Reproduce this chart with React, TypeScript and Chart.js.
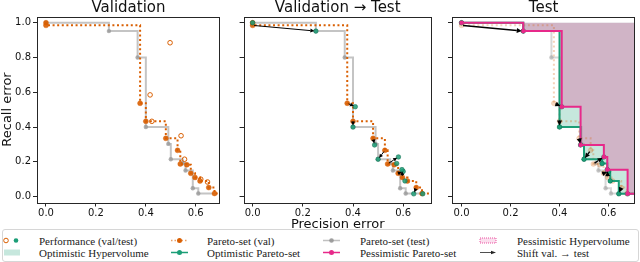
import React, { useEffect, useRef } from 'react';
import { Chart, registerables } from 'chart.js';
Chart.register(...registerables);

// ---------------- data ----------------
const panelTitles = ['Validation', 'Validation → Test', 'Test'];
const xTickValues = [0, 0.2, 0.4, 0.6];
const yTickValues = [0, 0.2, 0.4, 0.6, 0.8, 1.0];
const hvRefY = 1.0;

// Pareto-set on validation (filled orange)
const valParetoX = [0, 0, 0.377, 0.40, 0.48, 0.527, 0.538, 0.564, 0.58, 0.597, 0.617, 0.652, 0.675];
const valParetoY = [1.0, 0.985, 0.537, 0.433, 0.335, 0.266, 0.188, 0.183, 0.134, 0.11, 0.09, 0.052, 0.018];
// the same configurations evaluated on test (green)
const testOfValX = [0, 0.252, 0.409, 0.40, 0.486, 0.50, 0.581, 0.574, 0.60, 0.595, 0.607, 0.642, 0.678];
const testOfValY = [1.0, 0.952, 0.517, 0.40, 0.297, 0.215, 0.228, 0.19, 0.145, 0.155, 0.09, 0.016, 0.016];
// other validation performances (open orange)
const valOtherX = [0.497, 0.417, 0.424, 0.541, 0.555, 0.62, 0.647];
const valOtherY = [0.885, 0.585, 0.433, 0.35, 0.215, 0.10, 0.084];
// Pareto-set on test (gray)
const testParetoX = [0, 0.252, 0.367, 0.40, 0.49, 0.50, 0.548, 0.559, 0.588, 0.61];
const testParetoY = [1.0, 0.952, 0.80, 0.40, 0.303, 0.215, 0.192, 0.15, 0.048, 0.018];
// Optimistic Pareto-set (green line)
const optX = [0, 0.252, 0.40, 0.486, 0.50, 0.574, 0.595, 0.60, 0.607, 0.642];
const optY = [1.0, 0.952, 0.40, 0.297, 0.215, 0.19, 0.155, 0.145, 0.09, 0.016];
// Pessimistic Pareto-set (pink line)
const pessX = [0, 0.252, 0.409, 0.486, 0.581, 0.595, 0.678];
const pessY = [1.0, 0.952, 0.517, 0.297, 0.228, 0.155, 0.016];

// ---------------- styling ----------------
const ORANGE = '217,95,2';
const GREEN = '27,158,119';
const PINK = '231,41,138';
const GRAY = '150,150,150';
const TXT = '#111';
const FRAME = '#262626';

const Y_MIN = -0.034, Y_MAX = 1.036;
const panels = [
  { left: 37, right: 220, xMin: -0.036, xMax: 0.697 },
  { left: 243.6, right: 431.8, xMin: -0.036, xMax: 0.714 },
  { left: 452, right: 639, xMin: -0.039, xMax: 0.709 },
];

const P = (xs: number[], ys: number[]) => xs.map((x, i) => ({ x, y: ys[i] }));
const ext = (xs: number[], ys: number[], xEnd: number) => [...P(xs, ys), { x: xEnd, y: ys[ys.length - 1] }];
const firstN = (n: number, r: number) => (c: any) => (c.dataIndex < n ? r : 0);

const framePlugin = {
  id: 'frame',
  afterDraw(chart: any) {
    const { ctx, chartArea: a } = chart;
    ctx.save();
    ctx.strokeStyle = FRAME;
    ctx.lineWidth = 1;
    ctx.strokeRect(Math.round(a.left) + 0.5, Math.round(a.top) + 0.5, Math.round(a.right - a.left) - 1, Math.round(a.bottom - a.top));
    ctx.restore();
  },
};

const arrowPlugin = {
  id: 'arrows',
  afterDatasetsDraw(chart: any, _args: any, opts: any) {
    if (!opts || !opts.show) return;
    const { ctx } = chart;
    const xs = chart.scales.x, ys = chart.scales.y;
    ctx.save();
    ctx.strokeStyle = '#000';
    ctx.fillStyle = '#000';
    ctx.lineWidth = opts.width;
    for (let i = 0; i < valParetoX.length; i++) {
      const x1 = xs.getPixelForValue(valParetoX[i]);
      const y1 = ys.getPixelForValue(valParetoY[i]);
      const x2 = xs.getPixelForValue(testOfValX[i]);
      const y2 = ys.getPixelForValue(testOfValY[i]);
      const dx = x2 - x1, dy = y2 - y1;
      const len = Math.hypot(dx, dy);
      if (len < 3) continue;
      const ux = dx / len, uy = dy / len;
      const sx = x1 + ux * 1.5, sy = y1 + uy * 1.5;
      const ex = x2 - ux * 1.5, ey = y2 - uy * 1.5;
      const head = opts.head, hw = opts.head / 2;
      const bx = ex - ux * head, by = ey - uy * head;
      ctx.beginPath();
      ctx.moveTo(sx, sy);
      ctx.lineTo(bx, by);
      ctx.stroke();
      ctx.beginPath();
      ctx.moveTo(ex, ey);
      ctx.lineTo(bx - uy * hw, by + ux * hw);
      ctx.lineTo(bx + uy * hw, by - ux * hw);
      ctx.closePath();
      ctx.fill();
    }
    ctx.restore();
  },
};

function grayLine(a: number, order: number) {
  return {
    data: ext(testParetoX, testParetoY, valParetoX[valParetoX.length - 1]),
    stepped: 'before',
    borderColor: `rgba(${GRAY},${a * 0.75})`,
    borderWidth: 2,
    pointRadius: firstN(testParetoX.length, 2.2),
    pointBackgroundColor: `rgba(${GRAY},${a})`,
    pointBorderWidth: 0,
    fill: false,
    order,
  };
}
function orangeLine(a: number, xEnd: number, order: number) {
  return {
    data: ext(valParetoX, valParetoY, xEnd),
    stepped: 'before',
    borderColor: `rgba(${ORANGE},${a})`,
    borderWidth: 2,
    borderDash: [2, 2.6],
    pointRadius: firstN(valParetoX.length, 2.5),
    pointBackgroundColor: `rgba(${ORANGE},${a * 0.9})`,
    pointBorderColor: `rgba(${ORANGE},${a * 0.5})`,
    pointBorderWidth: 0.8,
    fill: false,
    order,
  };
}
function openOrange(order: number) {
  return {
    data: P(valOtherX, valOtherY),
    showLine: false,
    pointRadius: 2.3,
    pointBackgroundColor: 'rgba(255,255,255,0)',
    pointBorderColor: `rgb(${ORANGE})`,
    pointBorderWidth: 1,
    order,
  };
}
function greenPoints(order: number) {
  return {
    data: P(testOfValX, testOfValY),
    showLine: false,
    pointRadius: 2.3,
    pointBackgroundColor: `rgba(${GREEN},0.85)`,
    pointBorderColor: 'rgba(15,110,80,0.9)',
    pointBorderWidth: 0.6,
    order,
  };
}
function hvLine(xs: number[], ys: number[], rgb: string, fillA: number, xEnd: number, order: number) {
  return {
    data: ext(xs, ys, xEnd),
    stepped: 'before',
    borderColor: `rgb(${rgb})`,
    borderWidth: 2,
    pointRadius: firstN(xs.length, 2.3),
    pointBackgroundColor: `rgb(${rgb})`,
    pointBorderWidth: 0,
    fill: { value: hvRefY },
    backgroundColor: `rgba(${rgb},${fillA})`,
    order,
  };
}

function datasetsFor(i: number) {
  const xEnd = panels[i].xMax;
  if (i === 0) return [grayLine(0.75, 3), orangeLine(1, xEnd, 2), openOrange(1)];
  if (i === 1) return [grayLine(0.75, 4), orangeLine(1, xEnd, 3), greenPoints(2)];
  return [
    grayLine(0.5, 9),
    orangeLine(0.28, xEnd, 8),
    hvLine(optX, optY, GREEN, 0.25, xEnd, 5),
    greenPoints(4),
    hvLine(pessX, pessY, PINK, 0.27, xEnd, 3),
  ];
}

function makeChart(canvas: HTMLCanvasElement, i: number) {
  const p = panels[i];
  const first = i === 0;
  const yW = first ? 37 : 4;
  return new Chart(canvas, {
    type: 'line',
    data: { datasets: datasetsFor(i) as any },
    plugins: [framePlugin, arrowPlugin],
    options: {
      responsive: false,
      animation: false,
      events: [],
      layout: { padding: { left: p.left - yW, right: 640 - p.right, top: 0, bottom: 29.5 } },
      plugins: {
        legend: { display: false },
        tooltip: { enabled: false },
        filler: { propagate: false, drawTime: 'beforeDatasetsDraw' },
        title: {
          display: true,
          text: panelTitles[i],
          fullSize: false,
          color: TXT,
          font: { family: 'DejaVu Sans', size: 15, weight: 'normal', lineHeight: 1.1 },
          padding: { top: 0, bottom: 0 },
        },
        arrows: { show: i > 0, width: i === 2 ? 1.3 : 1, head: i === 2 ? 5 : 4 },
      } as any,
      scales: {
        x: {
          type: 'linear',
          min: p.xMin,
          max: p.xMax,
          afterBuildTicks: (s: any) => { s.ticks = xTickValues.map((v) => ({ value: v })); },
          afterFit: (s: any) => { s.height = 30; },
          ticks: {
            callback: (v: any) => Number(v).toFixed(1),
            color: TXT,
            font: { family: 'DejaVu Sans', size: 10 },
            padding: 1,
            maxRotation: 0,
            autoSkip: false,
          },
          grid: { display: true, drawOnChartArea: false, drawTicks: true, tickLength: 4, color: FRAME },
          border: { display: false },
          title: {
            display: i === 1,
            text: 'Precision error',
            color: TXT,
            font: { family: 'DejaVu Sans', size: 13 },
            padding: { top: 0, bottom: 0 },
          },
        },
        y: {
          type: 'linear',
          min: Y_MIN,
          max: Y_MAX,
          afterBuildTicks: (s: any) => { s.ticks = yTickValues.map((v) => ({ value: v })); },
          afterFit: (s: any) => { s.width = yW; },
          ticks: {
            callback: (v: any) => (first ? Number(v).toFixed(1) : ''),
            color: TXT,
            font: { family: 'DejaVu Sans', size: 10 },
            padding: 2,
            autoSkip: false,
          },
          grid: { display: true, drawOnChartArea: false, drawTicks: true, tickLength: 4, color: FRAME },
          border: { display: false },
          title: {
            display: first,
            text: 'Recall error',
            color: TXT,
            font: { family: 'DejaVu Sans', size: 13 },
            padding: { top: 0, bottom: 0 },
          },
        },
      },
    } as any,
  });
}

function Legend() {
  const serif = { fontFamily: '"Liberation Serif", "DejaVu Serif", serif', fontSize: 11, color: '#222' };
  const r1 = 240.5, r2 = 252.5;
  const texts = [
    { x: 39, y: r1, t: 'Performance (val/test)' },
    { x: 39, y: r2, t: 'Optimistic Hypervolume' },
    { x: 207, y: r1, t: 'Pareto-set (val)' },
    { x: 207, y: r2, t: 'Optimistic Pareto-set' },
    { x: 360, y: r1, t: 'Pareto-set (test)' },
    { x: 360, y: r2, t: 'Pessimistic Pareto-set' },
    { x: 517, y: r1, t: 'Pessimistic Hypervolume' },
    { x: 517, y: r2, t: 'Shift val. → test' },
  ];
  return (
    <>
      <div style={{ position: 'absolute', left: 2, top: 229, width: 635, height: 31, border: '1px solid #d6d6d6', borderRadius: 3, background: '#fff' }} />
      <svg width={640} height={262} style={{ position: 'absolute', left: 0, top: 0 }}>
        <circle cx={6} cy={r1} r={2.3} fill="none" stroke={`rgb(${ORANGE})`} strokeWidth={1} />
        <circle cx={16} cy={r1} r={2.3} fill={`rgb(${GREEN})`} />
        <rect x={4} y={r2 - 3} width={16} height={6} fill={`rgba(${GREEN},0.25)`} />
        <line x1={171} y1={r1} x2={188} y2={r1} stroke={`rgba(${ORANGE},0.6)`} strokeWidth={1.5} strokeDasharray="1.5 2" />
        <circle cx={179.5} cy={r1} r={2.5} fill={`rgb(${ORANGE})`} />
        <line x1={171} y1={r2} x2={188} y2={r2} stroke={`rgb(${GREEN})`} strokeWidth={1.5} />
        <circle cx={179.5} cy={r2} r={2.5} fill={`rgb(${GREEN})`} />
        <line x1={323} y1={r1} x2={340} y2={r1} stroke={`rgba(${GRAY},0.6)`} strokeWidth={1.5} />
        <circle cx={331.5} cy={r1} r={2.3} fill={`rgba(${GRAY},0.9)`} />
        <line x1={323} y1={r2} x2={340} y2={r2} stroke={`rgb(${PINK})`} strokeWidth={1.5} />
        <circle cx={331.5} cy={r2} r={2.5} fill={`rgb(${PINK})`} />
        <rect x={480} y={r1 - 2.5} width={16} height={5} fill={`rgba(${PINK},0.15)`} stroke={`rgb(${PINK})`} strokeWidth={0.8} strokeDasharray="1 1" />
        <line x1={480} y1={r2} x2={493} y2={r2} stroke="#222" strokeWidth={0.8} />
        <path d={`M496 ${r2} L491 ${r2 - 1.8} L491 ${r2 + 1.8} Z`} fill="#222" />
      </svg>
      {texts.map((d, k) => (
        <div key={k} style={{ ...serif, position: 'absolute', left: d.x, top: d.y - 7, lineHeight: '14px', whiteSpace: 'nowrap' }}>{d.t}</div>
      ))}
    </>
  );
}

export default function App() {
  const refs = [useRef<HTMLCanvasElement>(null), useRef<HTMLCanvasElement>(null), useRef<HTMLCanvasElement>(null)];
  useEffect(() => {
    const charts = refs.map((r, i) => makeChart(r.current as HTMLCanvasElement, i));
    return () => charts.forEach((c) => c.destroy());
  }, []);
  return (
    <div style={{ position: 'absolute', left: 0, top: 0, width: 640, height: 262, background: '#fff', overflow: 'hidden' }}>
      <Legend />
      {refs.map((r, i) => (
        <canvas key={i} ref={r} width={640} height={262} style={{ position: 'absolute', left: 0, top: 0, width: 640, height: 262 }} />
      ))}
    </div>
  );
}
